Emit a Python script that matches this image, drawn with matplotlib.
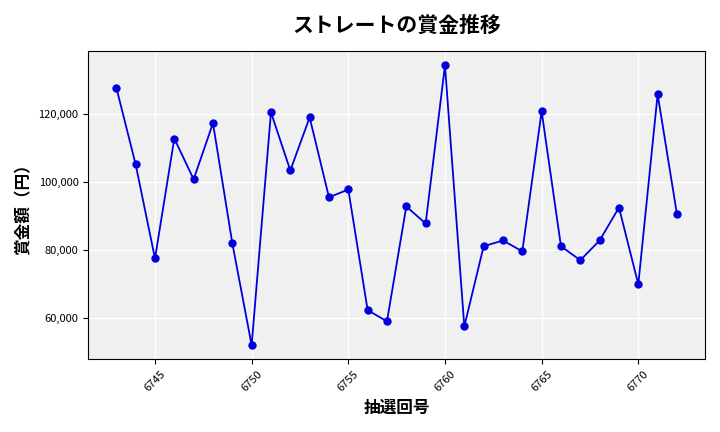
import matplotlib.pyplot as plt
from matplotlib.ticker import FuncFormatter

plt.rcParams['font.family'] = 'Noto Sans CJK JP'

draws = list(range(6743, 6773))
prizes = [127900, 105300, 77600, 112900, 100900, 117400, 82100, 52100, 120600, 103500,
          119100, 95600, 97900, 62400, 59100, 92900, 87900, 134400, 57600, 81200,
          82900, 79700, 120900, 81200, 77100, 82900, 92600, 70000, 125900, 90600]

fig, ax = plt.subplots(figsize=(7.2, 4.32), dpi=100)
ax.set_facecolor('#f0f0f0')
ax.plot(draws, prizes, color='#0000dd', marker='o', markersize=5, linewidth=1.3)
ax.grid(color='white', linewidth=1)
ax.set_axisbelow(True)
ax.set_title('ストレートの賞金推移', fontsize=15, fontweight='bold', pad=14)
ax.set_xlabel('抽選回号', fontsize=12, fontweight='bold')
ax.set_ylabel('賞金額（円）', fontsize=12, fontweight='bold')
ax.set_xticks(range(6745, 6773, 5))
ax.yaxis.set_major_formatter(FuncFormatter(lambda v, p: f'{int(v):,}'))
ax.tick_params(axis='x', labelrotation=45, labelsize=8)
ax.tick_params(axis='y', labelsize=8)
plt.tight_layout()
plt.savefig('out.png')
